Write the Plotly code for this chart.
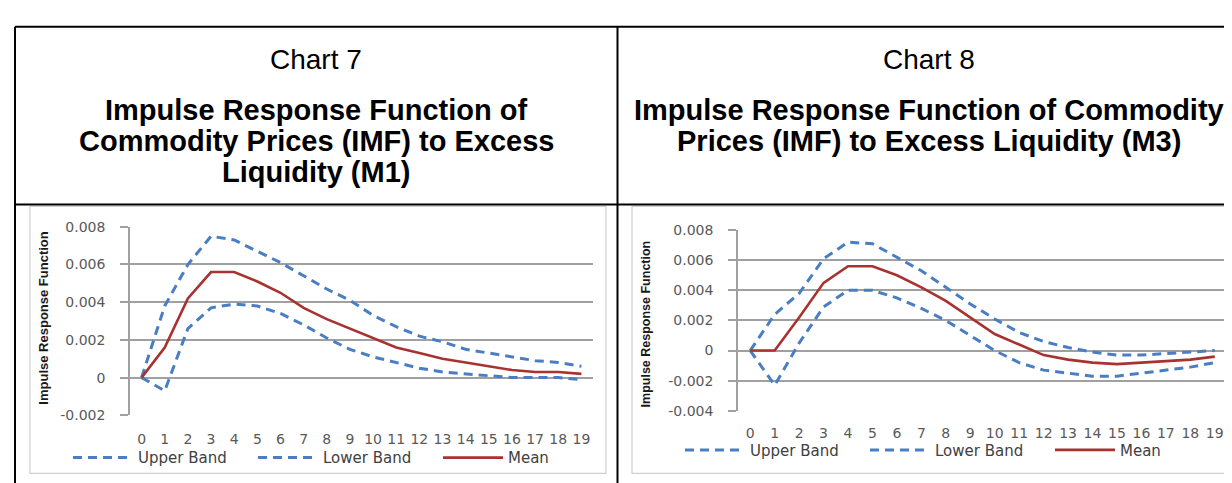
import plotly.graph_objects as go

W, H = 1232, 483

# ---------------- data ----------------
periods = ["0", "1", "2", "3", "4", "5", "6", "7", "8", "9",
           "10", "11", "12", "13", "14", "15", "16", "17", "18", "19"]

m1_upper = [0.0, 0.0038, 0.0060, 0.0075, 0.0073, 0.0067, 0.0061, 0.0054, 0.0047, 0.0041,
            0.0033, 0.0027, 0.0022, 0.0019, 0.0015, 0.0013, 0.0011, 0.0009, 0.0008, 0.0006]
m1_lower = [0.0, -0.0007, 0.0026, 0.0037, 0.0039, 0.0038, 0.0034, 0.0028, 0.0021, 0.0015,
            0.0011, 0.0008, 0.0005, 0.0003, 0.0002, 0.0001, 0.0000, 0.0000, 0.0000, -0.0001]
m1_mean = [0.0, 0.0016, 0.0042, 0.0056, 0.0056, 0.0051, 0.0045, 0.0037, 0.0031, 0.0026,
           0.0021, 0.0016, 0.0013, 0.0010, 0.0008, 0.0006, 0.0004, 0.0003, 0.0003, 0.0002]

m3_upper = [0.0, 0.0024, 0.0038, 0.0061, 0.0072, 0.0071, 0.0062, 0.0053, 0.0042, 0.0031,
            0.0021, 0.0012, 0.0006, 0.0002, -0.0001, -0.0003, -0.0003, -0.0002, -0.0001, 0.0000]
m3_lower = [0.0, -0.0023, 0.0005, 0.0029, 0.0040, 0.0040, 0.0035, 0.0028, 0.0020, 0.0010,
            0.0000, -0.0008, -0.0013, -0.0015, -0.0017, -0.0017, -0.0015, -0.0013, -0.0011, -0.0008]
m3_mean = [0.0, 0.0000, 0.0022, 0.0045, 0.0056, 0.0056, 0.0050, 0.0042, 0.0033, 0.0022,
           0.0011, 0.0004, -0.0003, -0.0006, -0.0008, -0.0009, -0.0008, -0.0007, -0.0006, -0.0004]

series_names = ["Upper Band", "Lower Band", "Mean"]

m1_ticks = [-0.002, 0.0, 0.002, 0.004, 0.006, 0.008]
m1_ticktext = ["-0.002", "0", "0.002", "0.004", "0.006", "0.008"]
m3_ticks = [-0.004, -0.002, 0.0, 0.002, 0.004, 0.006, 0.008]
m3_ticktext = ["-0.004", "-0.002", "0", "0.002", "0.004", "0.006", "0.008"]

chart_labels = ["Chart 7", "Chart 8"]
chart7_title = ["Impulse Response Function of", "Commodity Prices (IMF) to Excess", "Liquidity (M1)"]
chart8_title = ["Impulse Response Function of Commodity", "Prices (IMF) to Excess Liquidity (M3)"]
y_title = "Impulse Response Function"

# ---------------- styling ----------------
BLUE = "#4a7ec2"
RED = "#a8322f"
GRID = "#a0a0a0"
TICKFONT = dict(family="DejaVu Sans", size=14, color="#595959")
XTICKFONT = dict(family="DejaVu Sans", size=14, color="#595959")
LEGFONT = dict(family="DejaVu Sans", size=15, color="#404040")


def px(p):
    return p / W


def py(p):
    return 1 - p / H


fig = go.Figure()

charts = [
    dict(data=(m1_upper, m1_lower, m1_mean), xpx=(122, 585), ypx=(218, 413),
         yrange=[-0.002, 0.008], tv=m1_ticks, tt=m1_ticktext, xa="x", ya="y",
         legend="legend", leg=(60, 457), title_xy=(36, 313), title_size=13,
         frame=(22, 197, 598, 473), xstand=14),
    dict(data=(m3_upper, m3_lower, m3_mean), xpx=(730, 1219), ypx=(221.5, 408.3),
         yrange=[-0.004, 0.008], tv=m3_ticks, tt=m3_ticktext, xa="x2", ya="y2",
         legend="legend2", leg=(672, 449), title_xy=(638, 319), title_size=12.5,
         frame=(624, 197, 1228, 473), xstand=12),
]

styles = [dict(color=BLUE, width=3, dash="9px,6px"),
          dict(color=BLUE, width=3, dash="9px,6px"),
          dict(color=RED, width=2.6)]

for c in charts:
    for name, vals, st in zip(series_names, c["data"], styles):
        fig.add_trace(go.Scatter(x=periods, y=vals, mode="lines", name=name,
                                 line=st, xaxis=c["xa"], yaxis=c["ya"],
                                 legend=c["legend"], hoverinfo="skip"))

layout = dict(width=W, height=H, margin=dict(l=0, r=0, t=0, b=0),
              paper_bgcolor="white", plot_bgcolor="white", showlegend=True)

shapes = []
annotations = []

for i, c in enumerate(charts):
    sfx = "" if i == 0 else "2"
    xdom = [px(c["xpx"][0]), px(c["xpx"][1])]
    ydom = [py(c["ypx"][1]), py(c["ypx"][0])]
    layout["xaxis" + sfx] = dict(domain=xdom, anchor=c["ya"], type="category",
                                 range=[-0.5, 19.5], showgrid=False, zeroline=False,
                                 showline=False, ticks="", tickfont=XTICKFONT,
                                 ticklabelstandoff=c["xstand"], fixedrange=True)
    layout["yaxis" + sfx] = dict(domain=ydom, anchor=c["xa"], range=c["yrange"],
                                 tickvals=c["tv"], ticktext=c["tt"], showgrid=True,
                                 gridcolor=GRID, gridwidth=1.8, zeroline=False,
                                 showline=True, linecolor=GRID, linewidth=1.6,
                                 ticks="outside", ticklen=8, tickcolor=GRID, tickwidth=1.6,
                                 tickfont=TICKFONT, ticklabelstandoff=12, fixedrange=True)
    # horizontal category axis drawn at y = 0 with boundary tick marks
    ymin, ymax = c["yrange"]
    zero_pos = ydom[0] + (0 - ymin) / (ymax - ymin) * (ydom[1] - ydom[0])
    layout["xaxis" + str(3 + i)] = dict(overlaying=c["xa"], anchor="free", position=zero_pos,
                                        range=[-0.5, 19.5], tick0=-0.5, dtick=1,
                                        showticklabels=False, ticks="outside", ticklen=5,
                                        tickcolor="#8c8c8c", tickwidth=1.4, showline=True,
                                        linecolor="#8c8c8c", linewidth=1.8, showgrid=False,
                                        zeroline=False, fixedrange=True)
    layout[c["legend"]] = dict(orientation="h", x=px(c["leg"][0]), xanchor="left",
                               y=py(c["leg"][1]), yanchor="middle", font=LEGFONT,
                               bgcolor="rgba(0,0,0,0)", itemwidth=60, entrywidth=110,
                               traceorder="normal", itemclick=False, itemdoubleclick=False)
    # chart area frame
    fx0, fy0, fx1, fy1 = c["frame"]
    shapes.append(dict(type="rect", xref="paper", yref="paper", x0=px(fx0), x1=px(fx1),
                       y0=py(fy1), y1=py(fy0), line=dict(color="#cfcfcf", width=1.2),
                       layer="below"))
    annotations.append(dict(text="<b>" + y_title + "</b>", x=px(c["title_xy"][0]),
                            y=py(c["title_xy"][1]), xref="paper", yref="paper",
                            textangle=-90, showarrow=False, xanchor="center", yanchor="middle",
                            font=dict(family="Liberation Sans", size=c["title_size"],
                                      color="#1a1a1a")))

# table borders
BL = dict(color="black", width=2)
for x0, y0, x1, y1 in [(7, 11, W, 11), (7, 195, W, 195), (7, 11, 7, H), (609.5, 11, 609.5, H)]:
    shapes.append(dict(type="line", xref="paper", yref="paper", x0=px(x0), x1=px(x1),
                       y0=py(y0), y1=py(y1), line=BL))

# headings
TFONT = dict(family="Liberation Sans, Arial", size=28, color="black")
BFONT = dict(family="Liberation Sans, Arial", size=29, color="black")
for lab, cx in zip(chart_labels, [308, 921]):
    annotations.append(dict(text=lab, x=px(cx), y=py(45), xref="paper", yref="paper",
                            showarrow=False, xanchor="center", yanchor="middle", font=TFONT))
line_ys = [97, 129, 161]
for lines, cx in [(chart7_title, 308), (chart8_title, 921)]:
    for txt, ly in zip(lines, line_ys):
        annotations.append(dict(text="<b>" + txt + "</b>", x=px(cx), y=py(ly), xref="paper",
                                yref="paper", showarrow=False, xanchor="center",
                                yanchor="middle", font=BFONT))

layout["shapes"] = shapes
layout["annotations"] = annotations
fig.update_layout(**layout)

fig.write_html("out.html")
